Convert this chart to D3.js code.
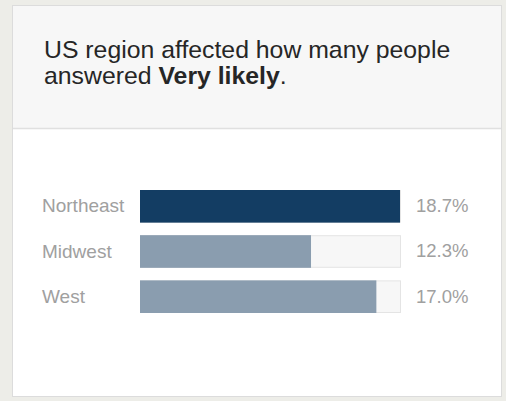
<!DOCTYPE html>
<html>
<head>
<meta charset="utf-8">
<script src="https://cdn.jsdelivr.net/npm/d3@7/dist/d3.min.js"></script>
<style>
  html, body { margin: 0; padding: 0; background: #ededE8; }
  svg { display: block; }
</style>
</head>
<body>
<svg id="chart" width="506" height="401"></svg>
<script>
// Share of respondents answering "Very likely", by US region
const regions = ["Northeast", "Midwest", "West"];
const shares = [18.7, 12.3, 17.0];
const highlighted = ["Northeast"];

const svg = d3.select("#chart");
const font = "Arial, 'Liberation Sans', sans-serif";

// Card
svg.append("rect")
  .attr("x", 12.5).attr("y", 5.5).attr("width", 489).attr("height", 391)
  .attr("fill", "#ffffff").attr("stroke", "#dcdcdc");

// Header band
svg.append("rect")
  .attr("x", 13).attr("y", 6).attr("width", 488).attr("height", 122)
  .attr("fill", "#f7f7f7");
svg.append("line")
  .attr("x1", 13).attr("x2", 501).attr("y1", 128.5).attr("y2", 128.5)
  .attr("stroke", "#e0e0e0").attr("stroke-width", 1.5);

const title = svg.append("text")
  .attr("font-family", font).attr("font-size", 24.8).attr("fill", "#262626");
title.append("tspan").attr("x", 44).attr("y", 58)
  .text("US region affected how many people");
const l2 = title.append("tspan").attr("x", 44).attr("y", 84);
l2.append("tspan").text("answered ");
l2.append("tspan").attr("font-weight", "bold").text("Very likely");
l2.append("tspan").text(".");

// Bars
const x = d3.scaleLinear().domain([0, d3.max(shares)]).range([140, 400]);
const y = d3.scaleBand().domain(regions).range([190, 312]).paddingInner(0.3).paddingOuter(0);

const rows = svg.append("g").selectAll("g")
  .data(regions.map((r, i) => ({ region: r, value: shares[i] })))
  .join("g");

rows.append("rect")
  .attr("x", x(0) + 0.5).attr("y", d => y(d.region) + 0.5)
  .attr("width", x.range()[1] - x(0)).attr("height", y.bandwidth())
  .attr("fill", "#f7f7f7").attr("stroke", "#e4e4e4");

rows.append("rect")
  .attr("x", x(0)).attr("y", d => y(d.region))
  .attr("width", d => x(d.value) - x(0)).attr("height", y.bandwidth() + 1)
  .attr("fill", d => highlighted.includes(d.region) ? "#133d63" : "#8a9daf");

rows.append("text")
  .attr("x", 42).attr("y", d => y(d.region) + y.bandwidth() / 2)
  .attr("dy", "0.35em")
  .attr("font-family", font).attr("font-size", 19).attr("fill", "#a0a0a0")
  .text(d => d.region);

rows.append("text")
  .attr("x", 416).attr("y", d => y(d.region) + y.bandwidth() / 2)
  .attr("dy", "0.35em")
  .attr("font-family", font).attr("font-size", 18.5).attr("fill", "#a0a0a0")
  .text(d => d.value.toFixed(1) + "%");
</script>
</body>
</html>
